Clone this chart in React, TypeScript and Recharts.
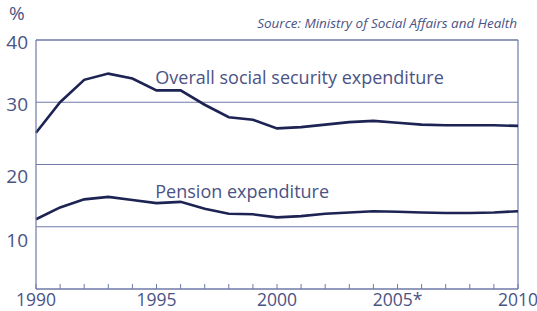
import React from 'react';
import { LineChart, Line, XAxis, YAxis, CartesianGrid, ReferenceLine, ReferenceDot } from 'recharts';

const years = [1990,1991,1992,1993,1994,1995,1996,1997,1998,1999,2000,2001,2002,2003,2004,2005,2006,2007,2008,2009,2010];
const overall = [25.1,30.0,33.6,34.6,33.8,31.9,31.9,29.6,27.6,27.2,25.8,26.0,26.4,26.8,27.0,26.7,26.4,26.3,26.3,26.3,26.2];
const pension = [11.2,13.1,14.4,14.8,14.3,13.8,14.0,12.9,12.1,12.0,11.5,11.7,12.1,12.3,12.5,12.4,12.3,12.2,12.2,12.3,12.5];
const xLabels: Record<number, string> = { 1990: '1990', 1995: '1995', 2000: '2000', 2005: '2005*', 2010: '2010' };
const yTicks = [10, 20, 30, 40];
const yLabelOffset: Record<number, number> = { 10: 13, 20: 11, 30: 2, 40: 2 };

const data = years.map((y, i) => ({ year: y, overall: overall[i], pension: pension[i] }));

const GRID = '#6f7aa8';
const TEXT = '#4a5384';
const LINE = '#1d2352';
const FONT = '"Open Sans", sans-serif';

const XTick = (props: any) => {
  const { x, y, payload } = props;
  const label = xLabels[payload.value];
  return (
    <g>
      <line x1={x} x2={x} y1={y} y2={y - 5} stroke={GRID} strokeWidth={1} />
      {label && (
        <text x={x} y={y + 17} textAnchor="middle" fill={TEXT} fontSize={17.5} fontFamily={FONT}>{label}</text>
      )}
    </g>
  );
};

const YTick = (props: any) => {
  const { x, y, payload } = props;
  return (
    <text x={x} y={y + yLabelOffset[payload.value]} textAnchor="end" dominantBaseline="central" fill={TEXT} fontSize={19} fontFamily={FONT}>{payload.value}</text>
  );
};

const SeriesLabel = (text: string) => (props: any) => {
  const { viewBox } = props;
  return (
    <text x={viewBox.x} y={viewBox.y} fill={TEXT} fontSize={18} fontFamily={FONT}>{text}</text>
  );
};

export default function App() {
  return (
    <div style={{ position: 'absolute', left: 0, top: 0, width: 537, height: 311, background: '#fff' }}>
      <LineChart width={537} height={311} data={data} margin={{ top: 40, right: 19, bottom: 0, left: 0 }}>
        <CartesianGrid horizontal vertical={false} stroke={GRID} strokeWidth={1} />
        <XAxis dataKey="year" type="number" domain={[1990, 2010]} ticks={years} interval={0}
          tick={<XTick />} tickLine={false} tickSize={0} tickMargin={0} axisLine={{ stroke: GRID, strokeWidth: 1.2 }} height={22} />
        <YAxis type="number" domain={[0, 40]} ticks={yTicks} interval={0} width={36}
          tick={<YTick />} tickLine={false} axisLine={{ stroke: GRID, strokeWidth: 1.2 }} />
        <ReferenceLine x={2010} stroke={GRID} strokeWidth={1.2} />
        <ReferenceLine y={40} stroke={GRID} strokeWidth={1.2} />
        <Line type="linear" dataKey="overall" stroke={LINE} strokeWidth={2.6} dot={false} isAnimationActive={false} />
        <Line type="linear" dataKey="pension" stroke={LINE} strokeWidth={2.6} dot={false} isAnimationActive={false} />
        <ReferenceDot x={1994.95} y={32.9} r={0} fill="none" stroke="none" label={SeriesLabel('Overall social security expenditure')} />
        <ReferenceDot x={1994.95} y={14.6} r={0} fill="none" stroke="none" label={SeriesLabel('Pension expenditure')} />
      </LineChart>
      <div style={{ position: 'absolute', left: 9, top: 2, fontSize: 19, color: TEXT, fontFamily: FONT, lineHeight: '22px' }}>%</div>
      <div style={{ position: 'absolute', right: 20, top: 14, fontSize: 13.5, color: TEXT, fontFamily: FONT, fontStyle: 'italic', lineHeight: '18px' }}>Source: Ministry of Social Affairs and Health</div>
    </div>
  );
}
